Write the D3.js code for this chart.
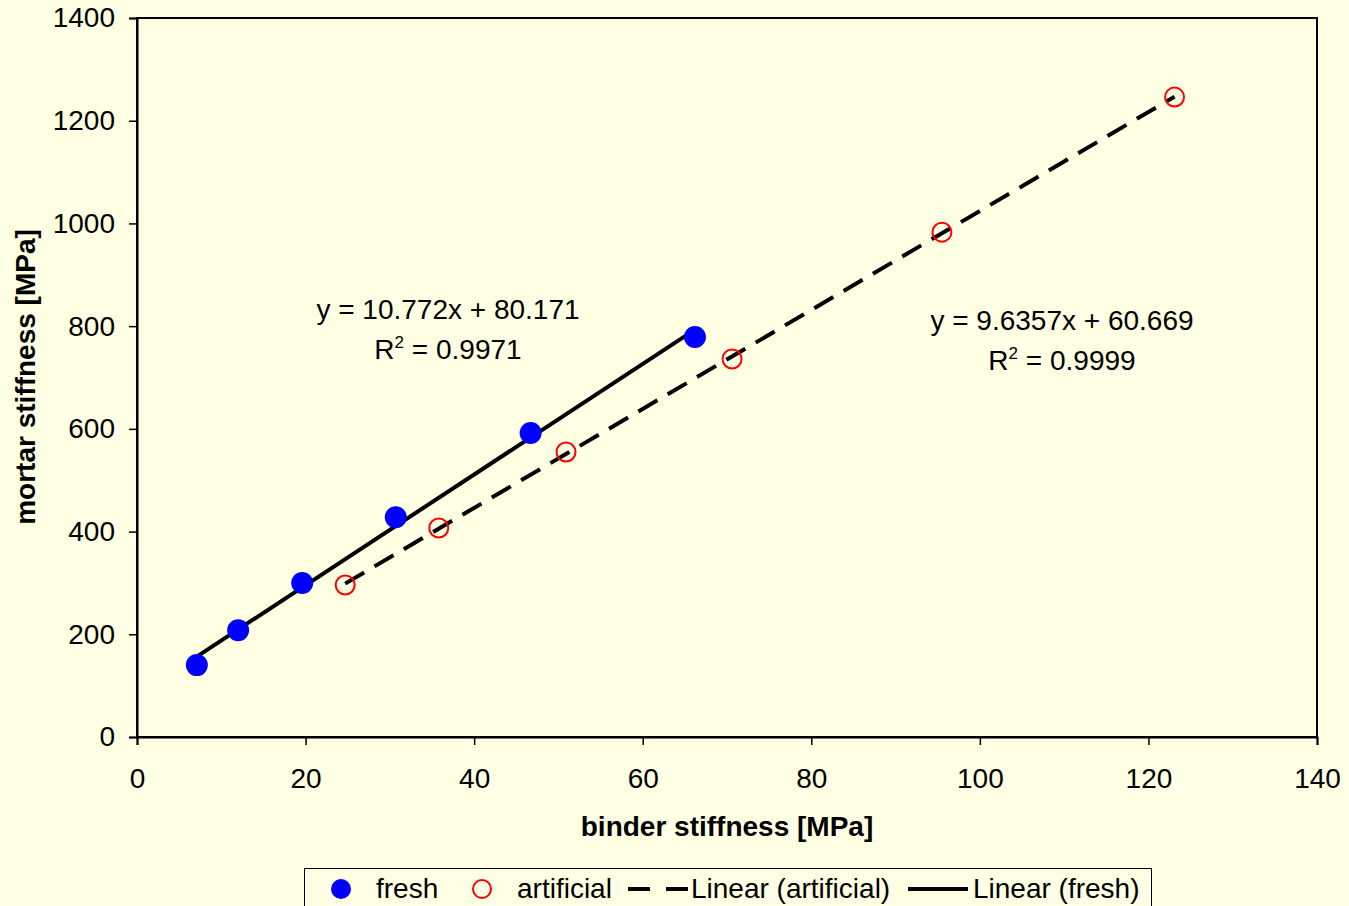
<!DOCTYPE html>
<html>
<head>
<meta charset="utf-8">
<script src="https://cdn.jsdelivr.net/npm/d3@7/dist/d3.min.js"></script>
<style>
  html, body { margin: 0; padding: 0; background: #FFFFE3; }
  svg { display: block; font-family: "Liberation Sans", Arial, sans-serif; }
</style>
</head>
<body>
<div id="chart"></div>
<script>
//Datos
const freshX = [7.1, 12.0, 19.6, 30.7, 46.7, 66.2];
const freshY = [140, 208, 300, 428, 592, 779];
const artificialX = [24.7, 35.8, 50.9, 70.6, 95.5, 123.1];
const artificialY = [296, 407, 555, 736, 983, 1246];
const xTicks = [0, 20, 40, 60, 80, 100, 120, 140];
const yTicks = [0, 200, 400, 600, 800, 1000, 1200, 1400];
const fitFresh = { slope: 10.772, intercept: 80.171, r2: '0.9971' };
const fitArtificial = { slope: 9.6357, intercept: 60.669, r2: '0.9999' };

const BG = '#FFFFE3', BLUE = '#0000FF', RED = '#FF0000';

let W = 1349, H = 906;
let margin = {top: 18, right: 32, bottom: 169, left: 137},
    width = W - margin.left - margin.right,
    height = H - margin.top - margin.bottom;

let svg = d3.select('#chart').append('svg')
    .attr('width', W).attr('height', H);

svg.append('rect').attr('width', W).attr('height', H).attr('fill', BG);

let g = svg.append('g')
    .attr('transform', 'translate(' + margin.left + ',' + margin.top + ')');

let x = d3.scaleLinear().domain([0, 140]).range([0, width]);
let y = d3.scaleLinear().domain([0, 1400]).range([height, 0]);

//Marco del area de trazado
g.append('rect')
    .attr('width', width).attr('height', height)
    .attr('fill', BG).attr('stroke', '#000').attr('stroke-width', 2);

//Ejes
let xAxis = g.append('g')
    .attr('transform', 'translate(0,' + height + ')')
    .call(d3.axisBottom(x).tickValues(xTicks).tickFormat(d3.format('d')).tickSize(8));
let yAxis = g.append('g')
    .call(d3.axisLeft(y).tickValues(yTicks).tickFormat(d3.format('d')).tickSize(8).tickPadding(14));

[xAxis, yAxis].forEach(function(a) {
    a.select('.domain').attr('stroke', '#000').attr('stroke-width', 2);
    a.selectAll('.tick line').attr('stroke', '#000').attr('stroke-width', 1.5);
    a.selectAll('.tick text')
        .attr('fill', '#000')
        .style('font-size', '28px')
        .style('font-family', '"Liberation Sans", Arial, sans-serif');
});
xAxis.selectAll('.tick text').attr('dy', '0.71em').attr('y', 31);

//Titulos de ejes
svg.append('text')
    .attr('x', margin.left + width / 2)
    .attr('y', 836)
    .attr('text-anchor', 'middle')
    .style('font-size', '28px').style('font-weight', 'bold')
    .text('binder stiffness [MPa]');

svg.append('text')
    .attr('transform', 'translate(35,' + 377 + ') rotate(-90)')
    .attr('text-anchor', 'middle')
    .style('font-size', '28px').style('font-weight', 'bold')
    .text('mortar stiffness [MPa]');

//Lineas de tendencia
function trend(xs, fit) {
    let x0 = d3.min(xs), x1 = d3.max(xs);
    return [[x0, fit.slope * x0 + fit.intercept], [x1, fit.slope * x1 + fit.intercept]];
}
let line = d3.line().x(function(d) { return x(d[0]); }).y(function(d) { return y(d[1]); });

g.append('path')
    .datum(trend(artificialX, fitArtificial))
    .attr('fill', 'none').attr('stroke', '#000').attr('stroke-width', 4)
    .attr('stroke-dasharray', '22 12')
    .attr('d', line);

g.append('path')
    .datum(trend(freshX, fitFresh))
    .attr('fill', 'none').attr('stroke', '#000').attr('stroke-width', 4)
    .attr('d', line);

//Puntos
g.selectAll('.fresh')
    .data(freshX)
    .enter().append('circle')
    .attr('class', 'fresh')
    .attr('cx', function(d) { return x(d); })
    .attr('cy', function(d, i) { return y(freshY[i]); })
    .attr('r', 11)
    .attr('fill', BLUE);

g.selectAll('.artificial')
    .data(artificialX)
    .enter().append('circle')
    .attr('class', 'artificial')
    .attr('cx', function(d) { return x(d); })
    .attr('cy', function(d, i) { return y(artificialY[i]); })
    .attr('r', 9.5)
    .attr('fill', 'none')
    .attr('stroke', RED).attr('stroke-width', 2);

//Ecuaciones
function equation(cx, cy, fit) {
    svg.append('text')
        .attr('x', cx).attr('y', cy)
        .attr('text-anchor', 'middle')
        .style('font-size', '28px')
        .text('y = ' + fit.slope + 'x + ' + fit.intercept);
    let t = svg.append('text')
        .attr('x', cx).attr('y', cy + 40)
        .attr('text-anchor', 'middle')
        .style('font-size', '28px');
    t.append('tspan').text('R');
    t.append('tspan').attr('dy', -11).style('font-size', '17px').text('2');
    t.append('tspan').attr('dy', 11).text(' = ' + fit.r2);
}
equation(448, 319, fitFresh);
equation(1062, 330, fitArtificial);

//Leyenda
let leg = svg.append('g');
leg.append('rect')
    .attr('x', 304.5).attr('y', 868.5)
    .attr('width', 847).attr('height', 50)
    .attr('fill', BG).attr('stroke', '#000').attr('stroke-width', 1);

let ly = 889;
leg.append('circle').attr('cx', 341).attr('cy', ly).attr('r', 10).attr('fill', BLUE);
leg.append('text').attr('x', 376).attr('y', 898).style('font-size', '28px').text('fresh');
leg.append('circle').attr('cx', 482).attr('cy', ly).attr('r', 9).attr('fill', 'none')
    .attr('stroke', RED).attr('stroke-width', 2);
leg.append('text').attr('x', 517).attr('y', 898).style('font-size', '28px').text('artificial');
leg.append('line').attr('x1', 628).attr('x2', 688).attr('y1', ly).attr('y2', ly)
    .attr('stroke', '#000').attr('stroke-width', 4).attr('stroke-dasharray', '22 16');
leg.append('text').attr('x', 691).attr('y', 898).style('font-size', '28px').text('Linear (artificial)');
leg.append('line').attr('x1', 908).attr('x2', 968).attr('y1', ly).attr('y2', ly)
    .attr('stroke', '#000').attr('stroke-width', 4);
leg.append('text').attr('x', 973).attr('y', 898).style('font-size', '28px').text('Linear (fresh)');
</script>
</body>
</html>
